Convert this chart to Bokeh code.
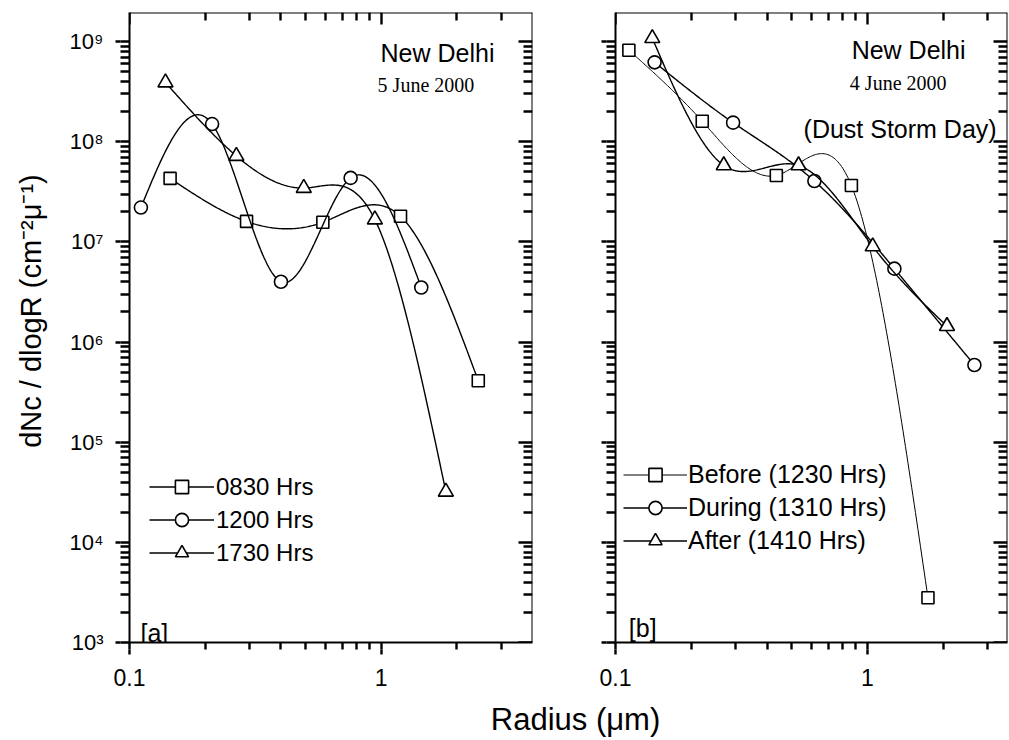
import numpy as np
from bokeh.plotting import figure
from bokeh.layouts import row, column
from bokeh.models import (FixedTicker, LogAxis, Legend, LegendItem,
                          CustomJSTickFormatter, Range1d)
from bokeh.core.properties import value
from bokeh.embed import file_html
from bokeh.resources import INLINE

# ---------------- data ----------------
# Panel [a]  New Delhi, 5 June 2000
a_0830_r = [0.145, 0.292, 0.587, 1.195, 2.435]
a_0830_n = [4.3e7, 1.6e7, 1.57e7, 1.8e7, 4.1e5]
a_1200_r = [0.111, 0.213, 0.40, 0.757, 1.445]
a_1200_n = [2.2e7, 1.5e8, 4.0e6, 4.35e7, 3.5e6]
a_1730_r = [0.139, 0.266, 0.493, 0.945, 1.81]
a_1730_n = [3.9e8, 7.2e7, 3.45e7, 1.67e7, 3.2e4]
a_labels = ["0830 Hrs", "1200 Hrs", "1730 Hrs"]

# Panel [b]  New Delhi, 4 June 2000 (Dust Storm Day)
b_before_r = [0.113, 0.221, 0.435, 0.864, 1.74]
b_before_n = [8.2e8, 1.6e8, 4.6e7, 3.65e7, 2.8e3]
b_during_r = [0.143, 0.293, 0.616, 1.28, 2.66]
b_during_n = [6.2e8, 1.55e8, 4.05e7, 5.4e6, 5.9e5]
b_after_r = [0.14, 0.269, 0.533, 1.05, 2.07]
b_after_n = [1.08e9, 5.8e7, 5.8e7, 9.0e6, 1.44e6]
b_labels = ["Before (1230 Hrs)", "During (1310 Hrs)", "After (1410 Hrs)"]

X_MAJOR = [0.1, 1]
X_MINOR = [0.2, 0.3, 0.4, 0.5, 0.6, 0.7, 0.8, 0.9, 2, 3]
Y_MAJOR = [1e3, 1e4, 1e5, 1e6, 1e7, 1e8, 1e9]
Y_MINOR = [m * 10.0 ** e for e in range(3, 9) for m in range(2, 10)]

Y_MIN, Y_MAX = 1e3, 1.95e9
X_MIN = 0.1

FONT = "Liberation Sans"
SERIF = "Liberation Serif"
INK = "#000000"
H = 690  # panel figure height


def natural_spline(xs, ys, n=240):
    """Smooth curve through the points, natural cubic spline in log-log space."""
    x = np.log10(np.asarray(xs, float))
    y = np.log10(np.asarray(ys, float))
    k = len(x)
    h = np.diff(x)
    A = np.zeros((k, k))
    rhs = np.zeros(k)
    A[0, 0] = 1.0
    A[-1, -1] = 1.0
    for i in range(1, k - 1):
        A[i, i - 1] = h[i - 1]
        A[i, i] = 2 * (h[i - 1] + h[i])
        A[i, i + 1] = h[i]
        rhs[i] = 3 * ((y[i + 1] - y[i]) / h[i] - (y[i] - y[i - 1]) / h[i - 1])
    c = np.linalg.solve(A, rhs)
    b = (y[1:] - y[:-1]) / h - h * (2 * c[:-1] + c[1:]) / 3
    d = (c[1:] - c[:-1]) / (3 * h)
    xx = np.linspace(x[0], x[-1], n)
    idx = np.clip(np.searchsorted(x, xx) - 1, 0, k - 2)
    t = xx - x[idx]
    yy = y[idx] + b[idx] * t + c[idx] * t ** 2 + d[idx] * t ** 3
    return 10 ** xx, 10 ** yy


def blank_formatter():
    return CustomJSTickFormatter(code="return '';")


def style_ticks(ax, tin, tout, rule, width=2.4):
    ax.major_tick_in = tin
    ax.major_tick_out = tout
    ax.minor_tick_in = 0
    ax.minor_tick_out = 0
    ax.axis_line_color = INK if rule else None
    ax.axis_line_width = 2
    ax.major_tick_line_width = width
    ax.major_tick_line_color = INK


def inward_axis(p, side, ticks, loc, tin, rule=False):
    """Tick marks pointing into the frame on its top / right edge."""
    ax = LogAxis(ticker=FixedTicker(ticks=ticks), fixed_location=loc,
                 formatter=blank_formatter(), major_label_standoff=0,
                 major_label_text_font_size="0px")
    style_ticks(ax, tin, 0, rule)
    p.add_layout(ax, side)


def make_panel(xmax, width, min_left, min_right, show_ylabels):
    p = figure(width=width, height=H, x_axis_type="log", y_axis_type="log",
               x_range=Range1d(X_MIN, xmax), y_range=Range1d(Y_MIN, Y_MAX),
               output_backend="svg", toolbar_location=None,
               min_border_left=min_left, min_border_right=min_right,
               min_border_top=12, min_border_bottom=48)
    p.grid.visible = False
    p.outline_line_color = None

    # inner bottom axis: every tick (short), draws the frame line
    xa = p.xaxis[0]
    xa.ticker = FixedTicker(ticks=X_MAJOR + X_MINOR)
    xa.formatter = blank_formatter()
    xa.major_label_standoff = 0
    xa.major_label_text_font_size = "0px"
    style_ticks(xa, 0, 7, True)
    # outer bottom axis: longer decade ticks and the labels
    xo = LogAxis(ticker=FixedTicker(ticks=X_MAJOR),
                 formatter=CustomJSTickFormatter(
                     code="return tick < 1 ? tick.toFixed(1) : tick.toFixed(0);"),
                 major_label_standoff=14, major_label_text_font=FONT,
                 major_label_text_font_size="23px", major_label_text_color=INK)
    style_ticks(xo, 0, 5, False)
    p.add_layout(xo, "below")

    # inner left axis: every tick (short), draws the frame line
    ya = p.yaxis[0]
    ya.ticker = FixedTicker(ticks=Y_MAJOR + Y_MINOR)
    ya.formatter = blank_formatter()
    ya.major_label_standoff = 0
    ya.major_label_text_font_size = "0px"
    style_ticks(ya, 0, 9, True)
    # outer left axis: longer decade ticks and the labels
    if show_ylabels:
        yfmt = CustomJSTickFormatter(code="""
            const sup = {'0':'\u2070','1':'\u00b9','2':'\u00b2','3':'\u00b3','4':'\u2074',
                         '5':'\u2075','6':'\u2076','7':'\u2077','8':'\u2078','9':'\u2079','-':'\u207b'};
            const e = Math.round(Math.log10(tick));
            return '10' + String(e).split('').map(c => sup[c]).join('');
        """)
        yo = LogAxis(ticker=FixedTicker(ticks=Y_MAJOR), formatter=yfmt,
                     major_label_standoff=12, major_label_text_font=FONT,
                     major_label_text_font_size="22px", major_label_text_color=INK)
    else:
        yo = LogAxis(ticker=FixedTicker(ticks=Y_MAJOR), formatter=blank_formatter(),
                     major_label_standoff=0, major_label_text_font_size="0px")
    style_ticks(yo, 0, 5, False)
    p.add_layout(yo, "left")

    # mirrored inward ticks on the top and right edges
    inward_axis(p, "above", X_MAJOR, Y_MAX, 12, rule=True)
    inward_axis(p, "above", X_MINOR, Y_MAX, 8)
    inward_axis(p, "right", Y_MAJOR, xmax, 14, rule=True)
    inward_axis(p, "right", Y_MINOR, xmax, 9)
    return p


def add_series(p, r, n, marker, size, lw=1.4):
    cx, cy = natural_spline(r, n)
    ln = p.line(cx, cy, line_color=INK, line_width=lw)
    sc = p.scatter(r, n, marker=marker, size=size, fill_color="white",
                   line_color=INK, line_width=1.6)
    return [ln, sc]


# ---------------- panel a ----------------
pa = make_panel(4.0, 516, 71, 42, True)
ra1 = add_series(pa, a_0830_r, a_0830_n, "square", 12)
ra2 = add_series(pa, a_1200_r, a_1200_n, "circle", 13)
ra3 = add_series(pa, a_1730_r, a_1730_n, "triangle", 15)

leg_a = Legend(items=[LegendItem(label=a_labels[0], renderers=ra1),
                      LegendItem(label=a_labels[1], renderers=ra2),
                      LegendItem(label=a_labels[2], renderers=ra3)],
               location=(20, 73), glyph_width=65, glyph_height=33,
               label_height=33, spacing=0, padding=0, margin=0,
               label_standoff=2, border_line_color=None,
               background_fill_alpha=0, label_text_font=FONT,
               label_text_font_size="24px", label_text_color=INK)
pa.add_layout(leg_a)

pa.text(x=[0.995], y=[7.6e8], text=["New Delhi"], text_font=value(FONT),
        text_font_size="25px", text_color=INK, text_baseline="alphabetic")
pa.text(x=[0.969], y=[3.65e8], text=["5 June 2000"], text_font=value(SERIF),
        text_font_size="20px", text_color="black", text_baseline="alphabetic")
pa.text(x=[0.1106], y=[1.24e3], text=["[a]"], text_font=value(FONT),
        text_font_size="25px", text_color=INK, text_baseline="alphabetic")

# ---------------- panel b ----------------
pb = make_panel(3.6, 434, 41, 1, False)
rb1 = add_series(pb, b_before_r, b_before_n, "square", 12, lw=1.0)
rb2 = add_series(pb, b_during_r, b_during_n, "circle", 13)
rb3 = add_series(pb, b_after_r, b_after_n, "triangle", 15)

leg_b = Legend(items=[LegendItem(label=b_labels[0], renderers=rb1),
                      LegendItem(label=b_labels[1], renderers=rb2),
                      LegendItem(label=b_labels[2], renderers=rb3)],
               location=(8, 85), glyph_width=64, glyph_height=33,
               label_height=33, spacing=0, padding=0, margin=0,
               label_standoff=1, border_line_color=None,
               background_fill_alpha=0, label_text_font=FONT,
               label_text_font_size="25px", label_text_color=INK)
pb.add_layout(leg_b)

pb.text(x=[0.866], y=[8.2e8], text=["New Delhi"], text_font=value(FONT),
        text_font_size="25px", text_color=INK, text_baseline="alphabetic")
pb.text(x=[0.852], y=[3.82e8], text=["4 June 2000"], text_font=value(SERIF),
        text_font_size="20px", text_color="black", text_baseline="alphabetic")
pb.text(x=[0.558], y=[1.35e8], text=["(Dust Storm Day)"], text_font=value(FONT),
        text_font_size="25px", text_color=INK, text_baseline="alphabetic")
pb.text(x=[0.113], y=[1.38e3], text=["[b]"], text_font=value(FONT),
        text_font_size="25px", text_color=INK, text_baseline="alphabetic")


# ---------------- shared axis titles ----------------
def label_fig(w, h):
    f = figure(width=w, height=h, x_range=Range1d(0, w), y_range=Range1d(0, h),
               x_axis_type=None, y_axis_type=None, output_backend="svg",
               toolbar_location=None, min_border=0)
    f.outline_line_color = None
    return f


ylab = label_fig(58, H)
ylab.text(x=[30], y=[H - 327], text=["dNc / dlogR (cm\u207b\u00b2\u03bc\u207b\u00b9)"],
          angle=np.pi / 2, text_align="center", text_baseline="middle",
          text_font=value(FONT), text_font_size="29px", text_color=INK)

xlab = label_fig(1008, 48)
xlab.text(x=[575], y=[19], text=["Radius (\u03bcm)"], text_align="center",
          text_baseline="middle", text_font=value(FONT), text_font_size="31px",
          text_color=INK)

layout = column(row(ylab, pa, pb), xlab)
open("out.html", "w").write(file_html(layout, INLINE))
